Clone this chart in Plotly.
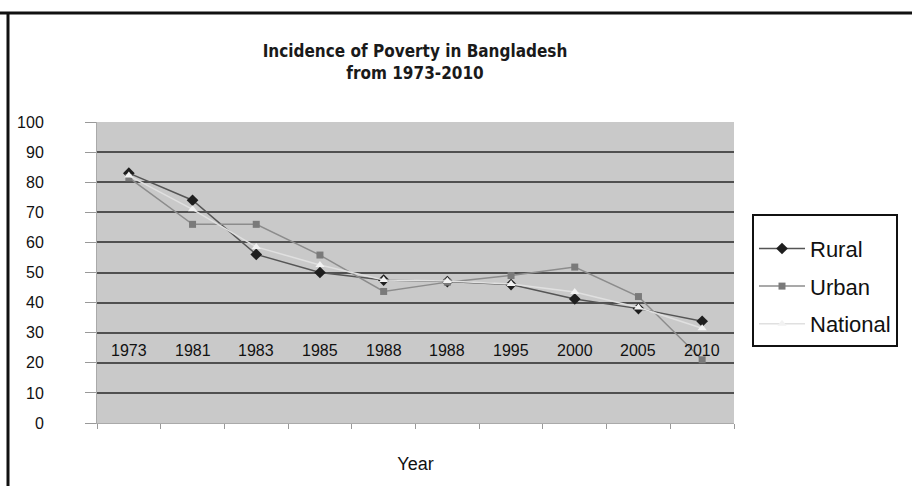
import plotly.graph_objects as go

# Survey years as printed on the category axis
year_labels = ["1973", "1981", "1983", "1985", "1988", "1988", "1995", "2000", "2005", "2010"]

# Head-count poverty incidence (%)
rural = [83.0, 74.0, 56.0, 50.0, 47.5, 47.0, 46.0, 41.2, 38.0, 33.8]
urban = [81.5, 66.0, 66.0, 55.8, 43.7, 46.8, 49.0, 51.8, 42.0, 21.0]
national = [82.2, 71.0, 58.5, 52.5, 47.5, 47.2, 46.2, 43.5, 38.4, 31.5]

y_ticks = list(range(0, 101, 10))
label_level = 24  # height (in % units) at which the year labels sit inside the plot

W, H = 912, 486
L, R, T, B = 97, 734, 122, 423  # plot area in pixels

def px(x):
    return (x - L) / (R - L)

def py(y):
    return (B - y) / (B - T)

sans = "Liberation Sans, Arial, sans-serif"
xpos = list(range(len(year_labels)))

fig = go.Figure()
fig.add_trace(go.Scatter(
    x=xpos, y=rural, name="Rural", legendgroup="r", mode="lines+markers",
    line=dict(color="#555555", width=1.5),
    marker=dict(symbol="diamond", size=9, color="#1e1e1e"),
))
fig.add_trace(go.Scatter(
    x=xpos, y=urban, name="Urban", legendgroup="u", mode="lines+markers",
    line=dict(color="#8c8c8c", width=1.5),
    marker=dict(symbol="square", size=7, color="#7a7a7a"),
))
fig.add_trace(go.Scatter(
    x=xpos, y=national, name="National", legendgroup="n", mode="lines+markers",
    line=dict(color="#e0e0e0", width=1.5),
    marker=dict(symbol="triangle-up", size=8, color="#f2f2f2"),
))

# Year labels drawn inside the plot area
for i, lab in enumerate(year_labels):
    fig.add_annotation(x=xpos[i], y=label_level, xref="x", yref="y", text=lab,
                       showarrow=False,
                       font=dict(family=sans, size=16, color="#111111"))

fig.update_layout(
    width=W, height=H,
    margin=dict(l=L, r=W - R, t=T, b=H - B),
    paper_bgcolor="white",
    plot_bgcolor="#c9c9c9",
    font=dict(family=sans, color="#111111"),
    showlegend=True,
    legend=dict(
        x=px(752), y=py(214), xanchor="left", yanchor="top",
        bgcolor="white", bordercolor="#111111", borderwidth=2,
        font=dict(family=sans, size=22, color="#111111"),
        title=dict(text="&nbsp;", font=dict(size=9)),
        traceorder="grouped", tracegroupgap=6,
        itemwidth=46,
    ),
    xaxis=dict(
        range=[-0.5, len(year_labels) - 0.5],
        tickmode="array",
        tickvals=[i - 0.5 for i in range(len(year_labels) + 1)],
        ticktext=[""] * (len(year_labels) + 1),
        ticks="outside", ticklen=5, tickcolor="#999999",
        showgrid=False, zeroline=False,
        showline=True, linecolor="#aaaaaa", linewidth=1,
        title=dict(text="Year", font=dict(family=sans, size=18, color="#111111"), standoff=26),
    ),
    yaxis=dict(
        range=[0, 100], tickmode="array", tickvals=y_ticks,
        ticks="outside", ticklen=11, tickcolor="#999999",
        ticklabelstandoff=38,
        tickfont=dict(family=sans, size=16, color="#111111"),
        showgrid=True, gridcolor="#505050", gridwidth=1.5,
        zeroline=False, showline=True, linecolor="#aaaaaa", linewidth=1,
    ),
    title=dict(
        text="<b>Incidence of Poverty in Bangladesh<br>from 1973-2010</b>",
        xref="paper", x=px(415), xanchor="center",
        yref="container", y=1 - 57 / H, yanchor="top",
        font=dict(family="DejaVu Sans Condensed, DejaVu Sans, sans-serif", size=17, color="#1a1a1a"),
    ),
)

# Outer frame of the chart: heavy rules along the top and left edges
fig.add_shape(type="line", xref="paper", yref="paper",
              x0=px(0), x1=px(W), y0=py(13), y1=py(13),
              line=dict(color="#111111", width=3))
fig.add_shape(type="line", xref="paper", yref="paper",
              x0=px(8), x1=px(8), y0=py(13), y1=py(H),
              line=dict(color="#111111", width=3))

fig.write_html("out.html")
